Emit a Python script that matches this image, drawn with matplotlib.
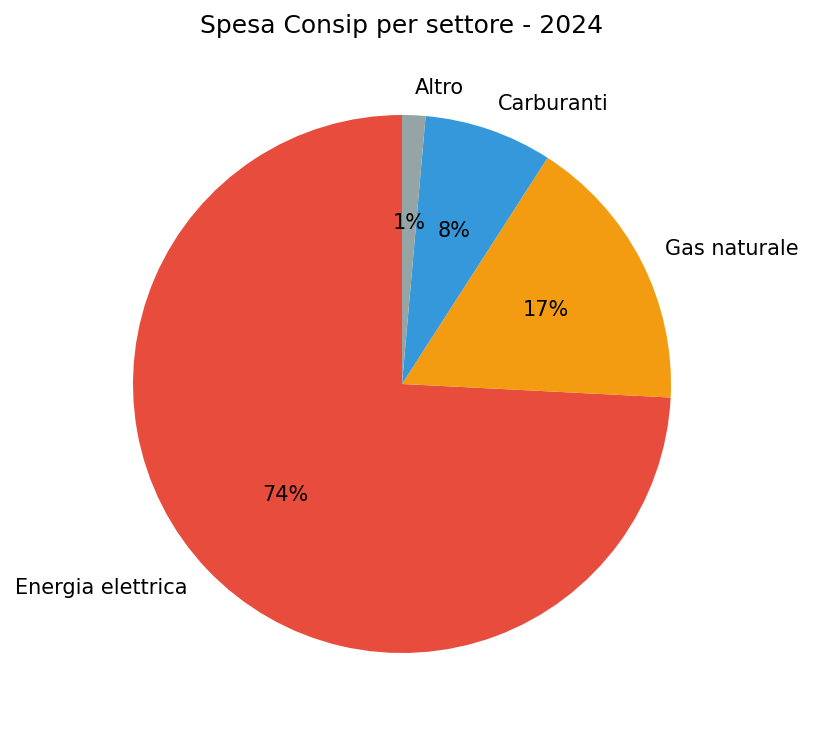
import matplotlib
matplotlib.use("Agg")
import matplotlib.pyplot as plt

labels = ["Energia elettrica", "Gas naturale", "Carburanti", "Altro"]
values = [74.2, 16.7, 7.7, 1.4]
colors = ["#e74c3c", "#f39c12", "#3498db", "#95a5a6"]

W, H = 814, 735
fig = plt.figure(figsize=(W / 100, H / 100), dpi=100)
# pie centred at about (402, 384) px with radius ~269 px
ax = fig.add_axes([133 / W, 82 / H, 538 / W, 538 / H])
ax.pie(values, labels=labels, colors=colors, autopct="%1.0f%%", startangle=90,
       textprops={"fontsize": 15})
ax.set_xlim(-1, 1)
ax.set_ylim(-1, 1)
ax.set_aspect("equal")
fig.suptitle("Spesa Consip per settore - 2024", fontsize=18, x=402 / W, y=1 - 26 / H, va="center")
fig.savefig("out.png", dpi=100)
